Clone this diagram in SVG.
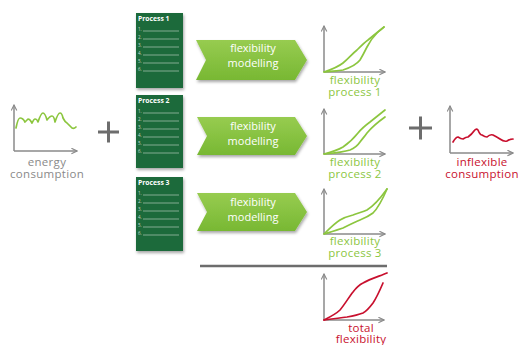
<svg xmlns="http://www.w3.org/2000/svg" width="518" height="345" viewBox="0 0 518 345">
<defs>
<filter id="sh" x="-20%" y="-20%" width="140%" height="140%"><feDropShadow dx="1" dy="2" stdDeviation="1.5" flood-color="#000" flood-opacity="0.35"/></filter>
<linearGradient id="chev" x1="0" y1="0" x2="0" y2="1"><stop offset="0" stop-color="#97cc50"/><stop offset="1" stop-color="#78b833"/></linearGradient>
<marker id="ah" viewBox="0 0 10 10" refX="9" refY="5" markerWidth="7" markerHeight="7" orient="auto" markerUnits="userSpaceOnUse"><path d="M1,1 L9,5 L1,9" fill="none" stroke="#8a8a8a" stroke-width="1.6"/></marker>
</defs>
<style>
.doc{fill:#1f6a3a;filter:url(#sh)}
.dt{font-family:"Open Sans","DejaVu Sans",sans-serif;font-weight:bold;font-size:6.8px;fill:#fff}
.dn{font-family:"Open Sans","DejaVu Sans",sans-serif;font-size:4.5px;fill:#c9d9cd}
.dl{stroke:#c9d9cd;stroke-width:0.6}
.chev{fill:url(#chev);filter:url(#sh)}
.ct{font-family:"Open Sans","DejaVu Sans",sans-serif;font-size:11px;fill:#fff;text-anchor:middle}
.ax{fill:none;stroke:#8a8a8a;stroke-width:1.5;marker-end:url(#ah)}
.gc{fill:none;stroke:#8cc63f;stroke-width:1.7;stroke-linecap:round;stroke-linejoin:round}
.rc{fill:none;stroke:#c8102e;stroke-width:1.7;stroke-linecap:round;stroke-linejoin:round}
.gl{font-family:"Open Sans","DejaVu Sans",sans-serif;font-size:11.5px;letter-spacing:0.25px;fill:#8cc63f;text-anchor:middle}
.rl{font-family:"Open Sans","DejaVu Sans",sans-serif;font-size:11.5px;letter-spacing:0.25px;fill:#c8102e;text-anchor:middle}
.yl{font-family:"Open Sans","DejaVu Sans",sans-serif;font-size:11.5px;letter-spacing:0.3px;fill:#8a8a8a;text-anchor:middle}
.plus{stroke:#6d6d6d;stroke-width:3}
</style>

<g id="energy">
<path class="ax" d="M14,151 V105"/>
<path class="ax" d="M14,151 H77"/>
<path class="gc" d="M16,128 Q18,118 20,118 Q23,118 25,122 Q27,120 28,119 Q30,119 32,123 Q34,119 35,119 Q37,119 38,122 Q41,113 43,113 Q45,113 47,120 Q50,116 52,116 Q54,116 55,122 Q58,113 60,113 Q62,113 63,118 Q65,122 67,123 Q70,126 72,128 Q74,129 76,127"/>
<text class="yl"><tspan x="47" y="166">energy</tspan><tspan x="47" y="178">consumption</tspan></text>
</g>

<g id="plus1"><path class="plus" d="M98,132 H119 M108.5,121.5 V142.5"/></g>

<g id="doc1">
<rect class="doc" x="136" y="13" width="47" height="75"/>
<text class="dt" x="138" y="21">Process 1</text>
<g class="dn"><text x="138" y="31">1.</text><text x="138" y="39">2.</text><text x="138" y="47">3.</text><text x="138" y="55">4.</text><text x="138" y="63">5.</text><text x="138" y="71">6.</text></g>
<path class="dl" d="M143,31 H179 M143,39 H179 M143,47 H179 M143,55 H179 M143,63 H179 M143,71 H179"/>
</g>
<g id="doc2">
<rect class="doc" x="136" y="95" width="47" height="73"/>
<text class="dt" x="138" y="103">Process 2</text>
<g class="dn"><text x="138" y="113">1.</text><text x="138" y="121">2.</text><text x="138" y="129">3.</text><text x="138" y="137">4.</text><text x="138" y="145">5.</text><text x="138" y="153">6.</text></g>
<path class="dl" d="M143,113 H179 M143,121 H179 M143,129 H179 M143,137 H179 M143,145 H179 M143,153 H179"/>
</g>
<g id="doc3">
<rect class="doc" x="136" y="177" width="47" height="74"/>
<text class="dt" x="138" y="185">Process 3</text>
<g class="dn"><text x="138" y="195">1.</text><text x="138" y="203">2.</text><text x="138" y="211">3.</text><text x="138" y="219">4.</text><text x="138" y="227">5.</text><text x="138" y="235">6.</text></g>
<path class="dl" d="M143,195 H179 M143,203 H179 M143,211 H179 M143,219 H179 M143,227 H179 M143,235 H179"/>
</g>

<g id="model1">
<polygon class="chev" points="196,40 295,40 307,60 295,80 196,80 206,60"/>
<text class="ct"><tspan x="253" y="52">flexibility</tspan><tspan x="253" y="67">modelling</tspan></text>
</g>
<g id="model2">
<polygon class="chev" points="197,117 295,117 307,136 295,155 197,155 207,136"/>
<text class="ct"><tspan x="253" y="130">flexibility</tspan><tspan x="253" y="145">modelling</tspan></text>
</g>
<g id="model3">
<polygon class="chev" points="197,193 295,193 307,212 295,231 197,231 207,212"/>
<text class="ct"><tspan x="253" y="206">flexibility</tspan><tspan x="253" y="221">modelling</tspan></text>
</g>

<g id="flex1">
<path class="ax" d="M324,72 V26"/>
<path class="ax" d="M324,72 H385"/>
<path class="gc" d="M324,72 C333,69 338,67 343,63 C349,58 352,54 357,50 C362,45 365,42 368,40 C374,35 379,31 384,27"/>
<path class="gc" d="M324,72 C333,71 338,71 343,70 C352,67 357,64 360,60 C363,55 365,51 367,47 C370,41 373,37 377,33 C380,30 382,29 384,27"/>
<text class="gl"><tspan x="355" y="84">flexibility</tspan><tspan x="355" y="96">process 1</tspan></text>
</g>
<g id="flex2">
<path class="ax" d="M324,154 V109"/>
<path class="ax" d="M324,154 H385"/>
<path class="gc" d="M324,154 C332,152 338,150 343,147 C349,143 354,138 358,133 C362,128 366,125 370,122 C375,118 380,114 385,110"/>
<path class="gc" d="M324,154 C335,153 344,152 350,150 C355,148 358,145 360,142 C363,138 365,136 367,133 C372,127 378,122 385,117"/>
<text class="gl"><tspan x="355" y="166">flexibility</tspan><tspan x="355" y="178">process 2</tspan></text>
</g>
<g id="flex3">
<path class="ax" d="M324,234 V189"/>
<path class="ax" d="M324,234 H385"/>
<path class="gc" d="M324,234 C330,228 335,223 340,220 C345,217 349,216 353,215 C358,213 363,212 367,210 C375,205 382,196 387,189"/>
<path class="gc" d="M324,234 C331,232 337,230 343,228 C349,225 355,222 360,220 C365,218 369,216 373,213 C379,207 384,196 387,189"/>
<text class="gl"><tspan x="355" y="245">flexibility</tspan><tspan x="355" y="257">process 3</tspan></text>
</g>

<g id="plus2"><path class="plus" d="M409,128 H432 M420.5,116.5 V139.5"/></g>

<g id="inflex">
<path class="ax" d="M450,153 V106"/>
<path class="ax" d="M450,153 H513"/>
<path class="rc" d="M453,142 Q456,137 458,137 Q461,139 463,139 Q466,137 468,137 Q472,134 474,131 Q476,128 478,130 Q480,135 482,135 Q485,137 487,137 Q490,134 493,135 Q497,137 500,139 Q504,142 507,141 Q510,139 513,139"/>
<text class="rl"><tspan x="482" y="166">inflexible</tspan><tspan x="482" y="178">consumption</tspan></text>
</g>

<g id="sumline"><path d="M200,266 H387" stroke="#6d6d6d" stroke-width="2.5"/></g>

<g id="total">
<path class="ax" d="M324,320 V274"/>
<path class="ax" d="M324,320 H384"/>
<path class="rc" d="M324,320 C330,317 336,314 340,310 C345,304 349,297 353,292 C356,288 359,285 363,283 C370,279 380,276 387,273"/>
<path class="rc" d="M324,320 C332,319 340,318 347,317 C353,316 358,315 363,313 C367,311 370,307 373,303 C377,297 380,290 383,283"/>
<text class="rl"><tspan x="361" y="332">total</tspan><tspan x="361" y="343">flexibility</tspan></text>
</g>
</svg>
